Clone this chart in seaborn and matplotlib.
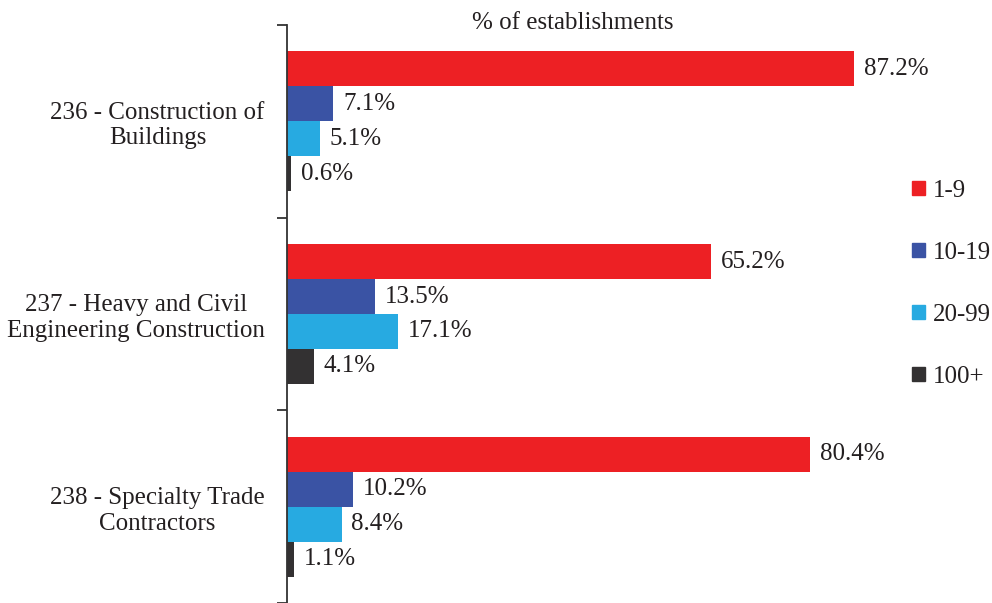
import matplotlib
matplotlib.use('Agg')
import matplotlib.pyplot as plt
import seaborn as sns
import pandas as pd

# data
categories = ['236 - Construction of\nBuildings',
              '237 - Heavy and Civil\nEngineering Construction',
              '238 - Specialty Trade\nContractors']
sizes = ['1-9', '10-19', '20-99', '100+']
pct_1_9 = [87.2, 65.2, 80.4]
pct_10_19 = [7.1, 13.5, 10.2]
pct_20_99 = [5.1, 17.1, 8.4]
pct_100 = [0.6, 4.1, 1.1]
colors = ['#ED2024', '#3A53A4', '#27AAE1', '#333132']

rows = []
for size, vals in zip(sizes, [pct_1_9, pct_10_19, pct_20_99, pct_100]):
    for cat, v in zip(categories, vals):
        rows.append({'Industry': cat, 'Size': size, 'Pct': v})
df = pd.DataFrame(rows)

sns.set_style('white')
plt.rcParams['font.family'] = ['Liberation Serif', 'DejaVu Serif']
plt.rcParams['font.size'] = 18
text_color = '#231F20'

fig = plt.figure(figsize=(9.92, 6.03), dpi=100)
ax = fig.add_axes([287/992, 0, (859-287)/992, (603-25)/603])

sns.barplot(data=df, y='Industry', x='Pct', hue='Size', order=categories,
            hue_order=sizes, palette=colors, orient='h', width=0.725,
            linewidth=0, saturation=1, ax=ax, legend=False)

for cont in ax.containers:
    ax.bar_label(cont, fmt='%.1f%%', padding=7, color=text_color,
                 fontsize=18, clip_on=False)

ax.set_xlim(0, 87.9)
ax.set_ylim(2.5, -0.5)
ax.set_xlabel('')
ax.set_ylabel('')
ax.set_xticks([])

# category labels at group centers, tick marks at group boundaries
ax.set_yticks([0, 1, 2])
ax.set_yticklabels(categories, multialignment='center', color=text_color,
                   fontsize=18, linespacing=1.2)
ax.tick_params(axis='y', which='major', length=0, pad=16)
ax.set_yticks([-0.5, 0.5, 1.5, 2.5], minor=True)
ax.tick_params(axis='y', which='minor', left=True, length=7, width=1.3,
               color='#333333')

for side in ['top', 'right', 'bottom']:
    ax.spines[side].set_visible(False)
ax.spines['left'].set_color('#333333')
ax.spines['left'].set_linewidth(1.3)

fig.text(573/992, 1 - 23/603, '% of establishments', ha='center',
         va='center', fontsize=18, color=text_color)

handles = [plt.Rectangle((0, 0), 1, 1, color=c) for c in colors]
fig.legend(handles, sizes, loc='center left',
           bbox_to_anchor=(912/992, 1 - 284/603), frameon=False,
           handlelength=0.5, handleheight=0.5, handletextpad=0.35,
           labelspacing=1.6, borderpad=0, borderaxespad=0, fontsize=18,
           labelcolor=text_color)

fig.savefig('out.png', dpi=100)
